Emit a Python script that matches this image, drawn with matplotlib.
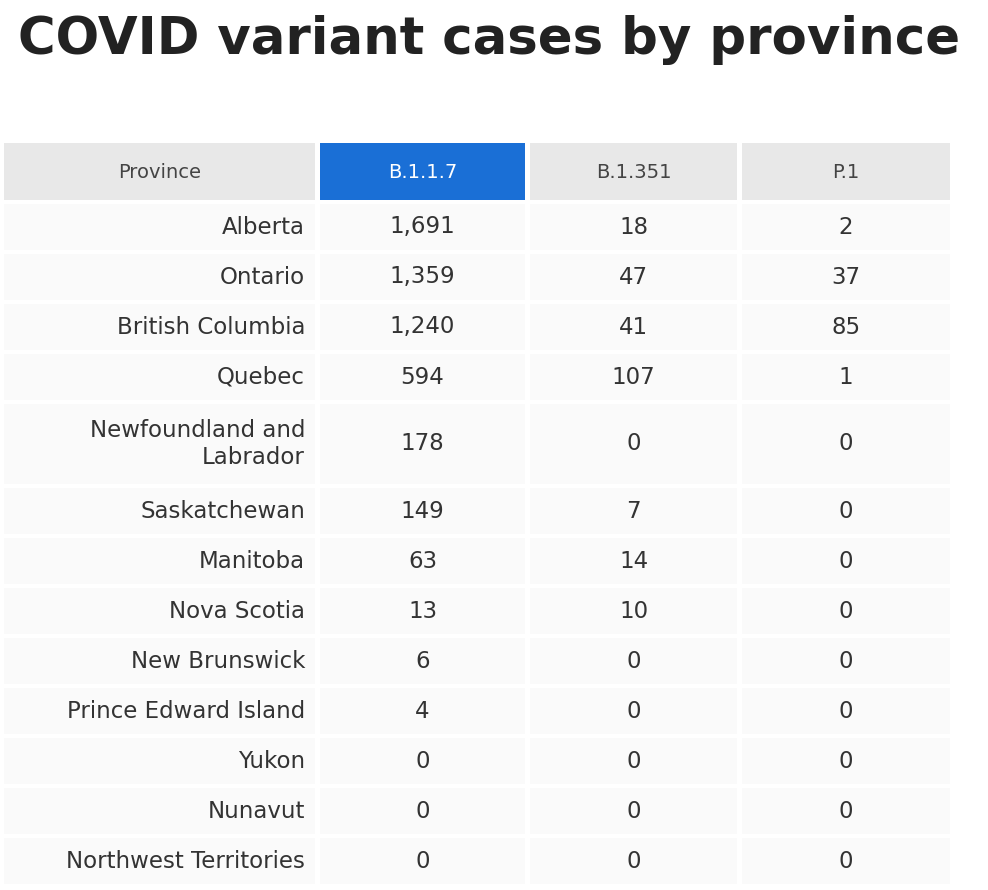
import matplotlib.pyplot as plt
from matplotlib.patches import Rectangle

provinces = ["Alberta", "Ontario", "British Columbia", "Quebec", "Newfoundland and\nLabrador",
             "Saskatchewan", "Manitoba", "Nova Scotia", "New Brunswick", "Prince Edward Island",
             "Yukon", "Nunavut", "Northwest Territories"]
b117 = ["1,691", "1,359", "1,240", "594", "178", "149", "63", "13", "6", "4", "0", "0", "0"]
b1351 = ["18", "47", "41", "107", "0", "7", "14", "10", "0", "0", "0", "0", "0"]
p1 = ["2", "37", "85", "1", "0", "0", "0", "0", "0", "0", "0", "0", "0"]
headers = ["Province", "B.1.1.7", "B.1.351", "P.1"]

fig = plt.figure(figsize=(9.88, 8.9), dpi=100)
ax = fig.add_axes([0, 0, 1, 1])
ax.set_xlim(0, 988)
ax.set_ylim(890, 0)
ax.axis("off")

ax.text(18, 40, "COVID variant cases by province", fontsize=37, fontweight="bold",
        color="#222222", va="center", family="DejaVu Sans")

cols = [(4, 315), (320, 525), (530, 737), (742, 950)]
# header
for i, (x0, x1) in enumerate(cols):
    fc = "#1a6fd6" if i == 1 else "#e8e8e8"
    ax.add_patch(Rectangle((x0, 143), x1 - x0, 57, fc=fc, ec="none"))
    ax.text((x0 + x1) / 2, 172, headers[i], fontsize=14, ha="center", va="center",
            color="white" if i == 1 else "#444444", family="DejaVu Sans")

y = 204
for r, name in enumerate(provinces):
    h = 80 if "\n" in name else 46
    gap = 50 if "\n" not in name else 84
    yc = y + h / 2
    for i, (x0, x1) in enumerate(cols):
        ax.add_patch(Rectangle((x0, y), x1 - x0, h, fc="#fafafa", ec="none"))
    ax.text(cols[0][1] - 10, yc, name, fontsize=16.5, ha="right", va="center",
            color="#333333", family="DejaVu Sans", linespacing=1.25)
    for i, vals in enumerate([b117, b1351, p1]):
        x0, x1 = cols[i + 1]
        ax.text((x0 + x1) / 2, yc, vals[r], fontsize=16.5, ha="center", va="center",
                color="#333333", family="DejaVu Sans")
    y += gap

fig.savefig("out.png", dpi=100)
